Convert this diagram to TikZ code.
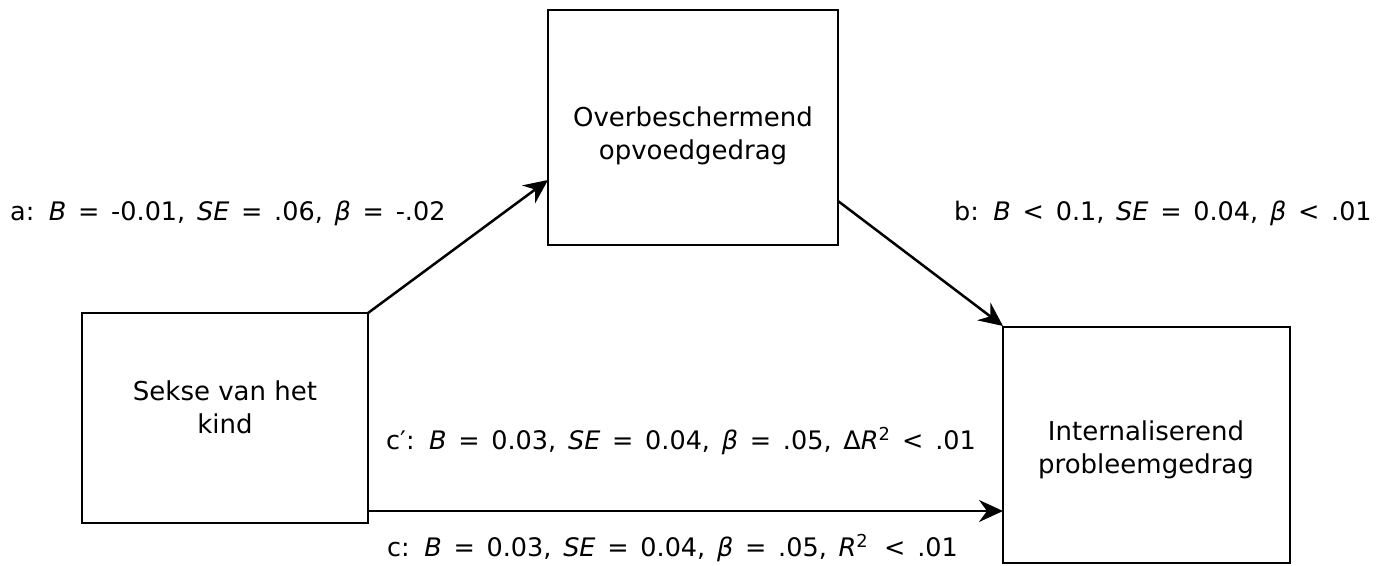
\documentclass[tikz,border=0pt]{standalone}
\usepackage{fontspec}
\setmainfont{DejaVu Sans}
\newfontfamily\lblfont{DejaVu Sans}[WordSpace={1.45,0.5,0.5}]
\usetikzlibrary{arrows.meta}
\begin{document}
\begin{tikzpicture}[x=1pt,y=-1pt,
  box/.style={draw,line width=2.2pt,inner sep=0pt},
  lbl/.style={font=\lblfont\fontsize{25.5}{28}\selectfont,inner sep=0pt},
  btxt/.style={font=\fontsize{26}{33}\selectfont,align=center,inner sep=0pt},
  conn/.style={line width=2.5pt,-{Stealth[length=24pt,width=22pt,inset=8pt]}}]
\useasboundingbox (0,0) rectangle (1379,565);
\draw[box] (82,313) rectangle (368,523);
\draw[box] (548,10) rectangle (838,245);
\draw[box] (1003,327) rectangle (1290,563);
\coordinate (a1) at (368,313);
\coordinate (a2) at (548,180);
\coordinate (b1) at (838,201);
\coordinate (b2) at (1003,326);
\coordinate (c1) at (368,511);
\coordinate (c2) at (1003,511);
\node[btxt] (s) at (225,407) {Sekse van het\\kind};
\node[btxt] (o) at (693,136) {Overbeschermend\\opvoedgedrag};
\node[btxt] (i) at (1146,450) {Internaliserend\\probleemgedrag};
\draw[conn] (a1) -- (a2);
\draw[conn] (b1) -- (b2);
\draw[conn] (c1) -- (c2);
\node[lbl,anchor=west] (la) at (10,213) {a: \textit{B} = -0.01, \textit{SE} = .06, \textit{β} = -.02};
\node[lbl,anchor=west] (lb) at (954,213) {b: \textit{B} < 0.1, \textit{SE} = 0.04, \textit{β} < .01};
\node[lbl,anchor=west] (lc1) at (386,441) {c′: \textit{B} = 0.03, \textit{SE} = 0.04, \textit{β} = .05, Δ\textit{R}\textsuperscript{2} < .01};
\node[lbl,anchor=west] (lc) at (387,548) {c: \textit{B} = 0.03, \textit{SE} = 0.04, \textit{β} = .05, \textit{R}\textsuperscript{2}\, < .01};
\end{tikzpicture}
\end{document}
